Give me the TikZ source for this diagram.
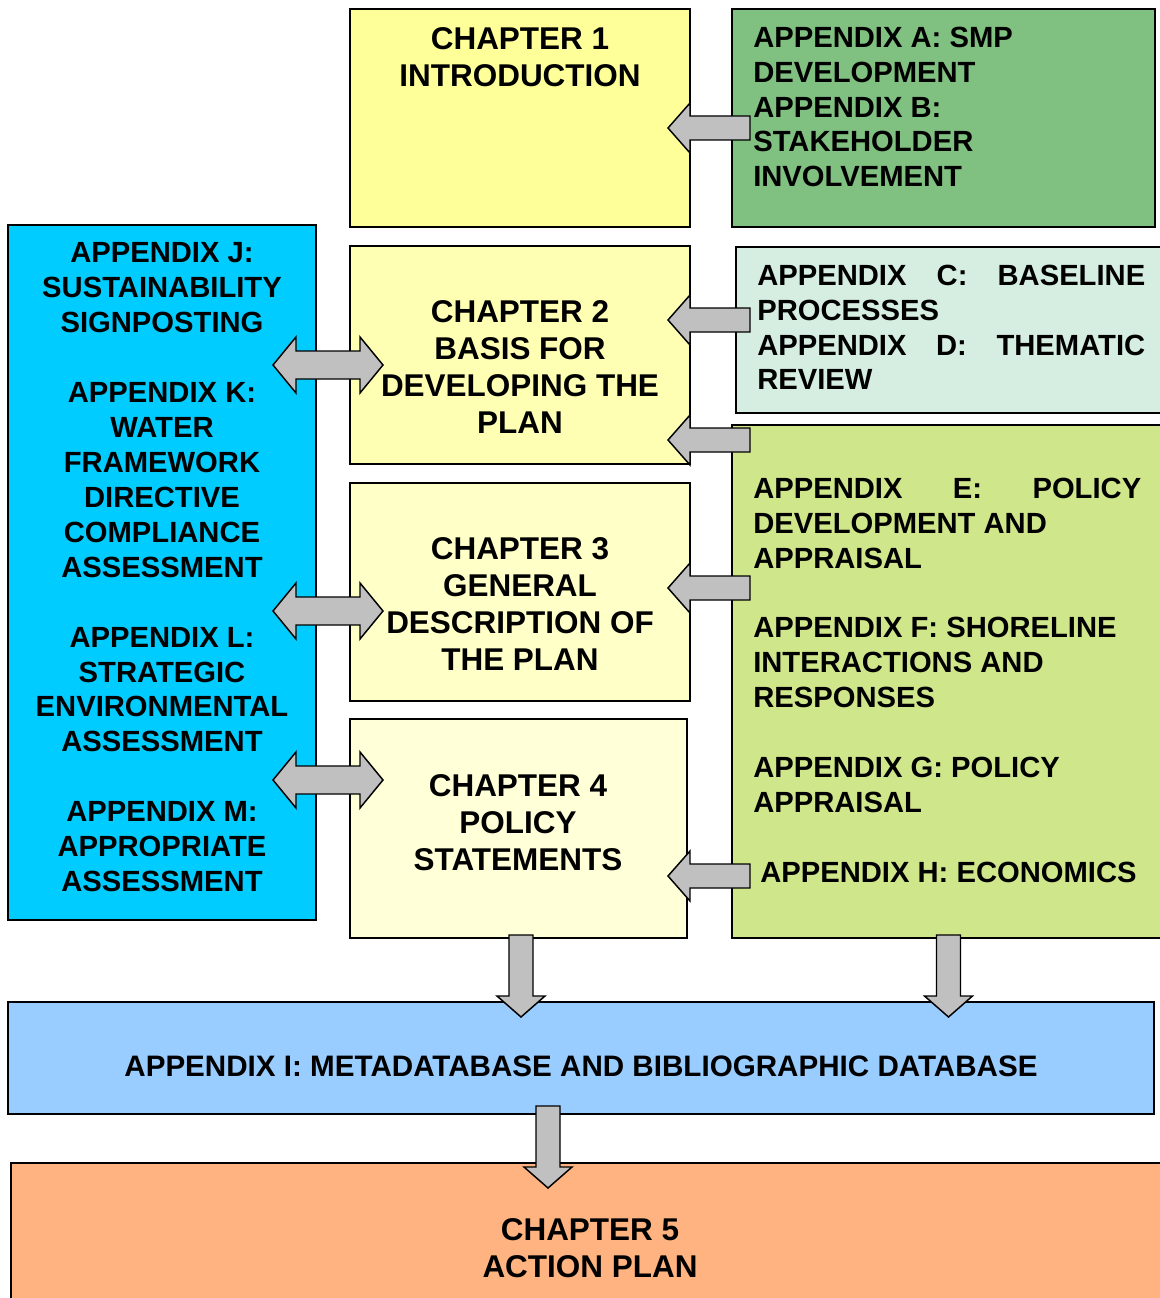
\documentclass[tikz,border=0pt]{standalone}
\usepackage{fontspec}
\setmainfont{Liberation Sans}
\usetikzlibrary{calc,positioning}
\definecolor{chone}{HTML}{FFFF99}
\definecolor{chtwo}{HTML}{FFFFB4}
\definecolor{chthree}{HTML}{FFFFC8}
\definecolor{chfour}{HTML}{FFFFD8}
\definecolor{chfive}{HTML}{FFB380}
\definecolor{appab}{HTML}{80C080}
\definecolor{appcd}{HTML}{D6EEE2}
\definecolor{appeh}{HTML}{D0E68A}
\definecolor{appjm}{HTML}{00CCFF}
\definecolor{appi}{HTML}{99CCFF}
\definecolor{arrowgray}{HTML}{C0C0C0}
\tikzset{
  box/.style={draw=black, line width=1.1pt, rectangle, inner sep=0pt, outer sep=0pt, anchor=north west},
  chaptext/.style={font=\fontsize{23.6}{27.75}\selectfont\bfseries, align=center, inner sep=0pt, anchor=north},
  apptext/.style={font=\fontsize{21.9}{26.2}\selectfont\bfseries, inner sep=0pt, anchor=north west, align=flush left},
  blockarrow/.style={draw=black, line width=1.1pt, fill=arrowgray, line join=miter},
}
% block arrows, drawn from their tip
\newcommand{\leftblock}[1]{\draw[blockarrow] (#1) -- ++(22,-25) -- ++(0,13) -- ++(60,0) -- ++(0,24) -- ++(-60,0) -- ++(0,13) -- cycle;}
\newcommand{\downblock}[1]{\draw[blockarrow] (#1) -- ++(-24,-21) -- ++(12,0) -- ++(0,-61) -- ++(24,0) -- ++(0,61) -- ++(12,0) -- cycle;}
\newcommand{\twoblock}[1]{\draw[blockarrow] (#1) -- ++(23,-28) -- ++(0,14) -- ++(64,0) -- ++(0,-14) -- ++(23,28) -- ++(-23,28) -- ++(0,-14) -- ++(-64,0) -- ++(0,14) -- cycle;}
\begin{document}
\begin{tikzpicture}[x=0.75pt, y=-0.75pt]
	\useasboundingbox (0,0) rectangle (1159,1298);
	% boxes
	\node[box, fill=chone, minimum width=340*0.75pt, minimum height=218*0.75pt] (ch1) at (350,9) {};
	\node[box, fill=appab, minimum width=423*0.75pt, minimum height=218*0.75pt] (appab) at (732,9) {};
	\node[box, fill=appjm, minimum width=308*0.75pt, minimum height=695*0.75pt] (appjm) at (8,225) {};
	\node[box, fill=chtwo, minimum width=340*0.75pt, minimum height=218*0.75pt] (ch2) at (350,246) {};
	\node[box, fill=appcd, minimum width=430*0.75pt, minimum height=166*0.75pt] (appcd) at (736,247) {};
	\node[box, fill=appeh, minimum width=433*0.75pt, minimum height=513*0.75pt] (appeh) at (732,425) {};
	\node[box, fill=chthree, minimum width=340*0.75pt, minimum height=218*0.75pt] (ch3) at (350,483) {};
	\node[box, fill=chfour, minimum width=337*0.75pt, minimum height=219*0.75pt] (ch4) at (350,719) {};
	\node[box, fill=appi, minimum width=1146*0.75pt, minimum height=112*0.75pt] (appi) at (8,1002) {};
	\node[box, fill=chfive, minimum width=1160*0.75pt, minimum height=150*0.75pt] (ch5) at (11,1163) {};
	% arrows
	\leftblock{$(ch1.east)+(-22,10)$}
	\leftblock{$(ch2.east)+(-22,-35)$}
	\leftblock{$(ch2.east)+(-22,85)$}
	\leftblock{$(ch3.east)+(-22,-4)$}
	\leftblock{$(ch4.east)+(-19,47.5)$}
	\twoblock{$(ch2.west)+(-77,10)$}
	\twoblock{$(ch3.west)+(-77,19)$}
	\twoblock{$(ch4.west)+(-77,-48.5)$}
	\downblock{$(ch4.south)+(2.5,79)$}
	\downblock{$(appeh.south)+(0,79)$}
	\downblock{$(appi.south)+(-33,74)$}
	% texts
	\node[chaptext] (ch1txt) at (520,26.8) {CHAPTER 1\\INTRODUCTION};
	\node[chaptext] (ch2txt) at (520,300.7) {CHAPTER 2\\BASIS FOR\\DEVELOPING THE\\PLAN};
	\node[chaptext] (ch3txt) at (520,537.7) {CHAPTER 3\\GENERAL\\DESCRIPTION OF\\THE PLAN};
	\node[chaptext] (ch4txt) at (518,774.7) {CHAPTER 4\\POLICY\\STATEMENTS};
	\node[chaptext] (ch5txt) at (590,1218.7) {CHAPTER 5\\ACTION PLAN};
	\node[apptext, anchor=center, font=\fontsize{22.2}{26.2}\selectfont\bfseries] (appitxt) at (581,1066) {APPENDIX I: METADATABASE AND BIBLIOGRAPHIC DATABASE};
	\node[apptext] (appabtxt) at (753,26.5) {APPENDIX A: SMP\\DEVELOPMENT\\APPENDIX B:\\STAKEHOLDER\\INVOLVEMENT};
	\node[apptext, text width=388*0.75pt] (appcdtxt) at (757,264.5) {APPENDIX\hfill C:\hfill BASELINE\\PROCESSES\\APPENDIX\hfill D:\hfill THEMATIC\\REVIEW};
	\node[apptext, text width=388*0.75pt] (appehtxt) at (753,477.5) {APPENDIX\hfill E:\hfill POLICY\\DEVELOPMENT AND\\APPRAISAL\\~\\APPENDIX F: SHORELINE\\INTERACTIONS AND\\RESPONSES\\~\\APPENDIX G: POLICY\\APPRAISAL\\~\\\hspace*{5.25pt}APPENDIX H: ECONOMICS};
	\node[apptext, align=center, anchor=north] (appjmtxt) at (162,242.5) {APPENDIX J:\\SUSTAINABILITY\\SIGNPOSTING\\~\\APPENDIX K:\\WATER\\FRAMEWORK\\DIRECTIVE\\COMPLIANCE\\ASSESSMENT\\~\\APPENDIX L:\\STRATEGIC\\ENVIRONMENTAL\\ASSESSMENT\\~\\APPENDIX M:\\APPROPRIATE\\ASSESSMENT};
\end{tikzpicture}
\end{document}
